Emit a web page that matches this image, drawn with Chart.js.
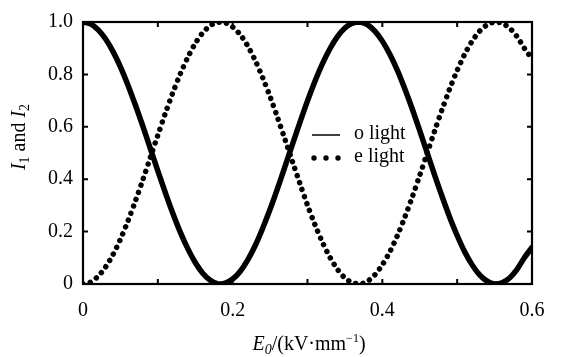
<!DOCTYPE html>
<html>
<head>
<meta charset="utf-8">
<script src="https://cdn.jsdelivr.net/npm/chart.js@4"></script>
<style>
html,body{margin:0;padding:0;background:#fff;}
#wrap{width:567px;height:357px;}
</style>
</head>
<body>
<div id="wrap"><canvas id="c" width="567" height="357"></canvas></div>
<script>
const fieldValues = [0.00,0.01,0.02,0.03,0.04,0.05,0.06,0.07,0.08,0.09,0.10,0.11,0.12,0.13,0.14,0.15,0.16,0.17,0.18,0.19,0.20,0.21,0.22,0.23,0.24,0.25,0.26,0.27,0.28,0.29,0.30,0.31,0.32,0.33,0.34,0.35,0.36,0.37,0.38,0.39,0.40,0.41,0.42,0.43,0.44,0.45,0.46,0.47,0.48,0.49,0.50,0.51,0.52,0.53,0.54,0.55,0.56,0.57,0.58,0.59,0.60];
const oLight = [1.000,0.993,0.971,0.936,0.888,0.829,0.760,0.683,0.602,0.517,0.432,0.349,0.270,0.198,0.135,0.082,0.041,0.014,0.001,0.003,0.019,0.048,0.091,0.146,0.212,0.285,0.365,0.449,0.534,0.618,0.699,0.774,0.841,0.898,0.944,0.977,0.995,1.000,0.990,0.965,0.927,0.877,0.816,0.745,0.668,0.585,0.500,0.415,0.333,0.255,0.185,0.123,0.073,0.035,0.011,0.000,0.005,0.023,0.056,0.101,0.140];
const eLight = [0.000,0.007,0.029,0.064,0.112,0.171,0.240,0.317,0.398,0.483,0.568,0.651,0.730,0.802,0.865,0.918,0.959,0.986,0.999,0.997,0.981,0.952,0.909,0.854,0.788,0.715,0.635,0.551,0.466,0.382,0.301,0.226,0.159,0.102,0.056,0.023,0.005,0.000,0.010,0.035,0.073,0.123,0.184,0.255,0.332,0.415,0.500,0.585,0.667,0.745,0.815,0.877,0.927,0.965,0.989,1.000,0.995,0.977,0.944,0.899,0.860];
const xTickLabels = ['0','0.2','0.4','0.6'];
const yTickLabels = ['0','0.2','0.4','0.6','0.8','1.0'];
const xMinorTicks = [0.1,0.3,0.5];
const seriesNames = ['o light','e light'];

const SERIF = '"Liberation Serif", "DejaVu Serif", serif';
const FS = 20;

function pts(ys){ return fieldValues.map((x,i)=>({x:x,y:ys[i]})); }

function drawRich(ctx, parts, x, y, align){
  let total = 0;
  parts.forEach(p=>{ ctx.font = (p.italic?'italic ':'') + (p.size||FS) + 'px ' + SERIF; p.w = ctx.measureText(p.t).width; total += p.w; });
  let cx = align==='center' ? x - total/2 : x;
  parts.forEach(p=>{
    ctx.font = (p.italic?'italic ':'') + (p.size||FS) + 'px ' + SERIF;
    ctx.fillText(p.t, cx, y + (p.dy||0));
    cx += p.w;
  });
}

const decor = {
  id:'decor',
  afterDatasetsDraw(chart){
    const ctx = chart.ctx, a = chart.chartArea, xs = chart.scales.x, ys = chart.scales.y;
    ctx.save();
    ctx.strokeStyle = '#000';
    ctx.lineWidth = 2.2;
    ctx.strokeRect(a.left, a.top, a.right-a.left, a.bottom-a.top);
    ctx.lineWidth = 2;
    const tl = 5;
    const xt = [0,0.2,0.4,0.6].concat(xMinorTicks);
    xt.forEach(v=>{
      const px = xs.getPixelForValue(v);
      ctx.beginPath();
      ctx.moveTo(px, a.bottom); ctx.lineTo(px, a.bottom - tl);
      ctx.moveTo(px, a.top); ctx.lineTo(px, a.top + tl);
      ctx.stroke();
    });
    [0,0.2,0.4,0.6,0.8,1.0].forEach(v=>{
      const py = ys.getPixelForValue(v);
      ctx.beginPath();
      ctx.moveTo(a.left, py); ctx.lineTo(a.left + tl, py);
      ctx.moveTo(a.right, py); ctx.lineTo(a.right - tl, py);
      ctx.stroke();
    });
    // legend
    ctx.fillStyle = '#000';
    ctx.textBaseline = 'middle';
    ctx.textAlign = 'left';
    ctx.lineWidth = 1.5;
    ctx.beginPath(); ctx.moveTo(312,135); ctx.lineTo(340,135); ctx.stroke();
    [314,326,338].forEach(cx=>{ ctx.beginPath(); ctx.arc(cx,158,2.7,0,Math.PI*2); ctx.fill(); });
    ctx.font = FS + 'px ' + SERIF;
    ctx.fillText(seriesNames[0], 354, 134);
    ctx.fillText(seriesNames[1], 354, 157);
    // x title
    ctx.textBaseline = 'alphabetic';
    drawRich(ctx, [
      {t:'E', italic:true},
      {t:'0', italic:true, size:14, dy:4},
      {t:'/(kV·mm'},
      {t:'−1', size:12, dy:-8},
      {t:')'}
    ], 309, 350, 'center');
    // y title
    ctx.save();
    ctx.translate(25, 137);
    ctx.rotate(-Math.PI/2);
    drawRich(ctx, [
      {t:'I', italic:true},
      {t:'1', size:14, dy:4},
      {t:' and '},
      {t:'I', italic:true},
      {t:'2', size:14, dy:4}
    ], 0, 0, 'center');
    ctx.restore();
    ctx.restore();
  }
};

new Chart(document.getElementById('c'), {
  type:'line',
  data:{
    datasets:[
      {label:seriesNames[0], data:pts(oLight), borderColor:'#000', borderWidth:5.5, pointRadius:0, tension:0.3, fill:false, borderCapStyle:'round', borderJoinStyle:'round'},
      {label:seriesNames[1], data:pts(eLight), borderColor:'#000', borderWidth:5.5, pointRadius:0, tension:0.3, fill:false, borderDash:[0.01,7.4], borderCapStyle:'round'}
    ]
  },
  options:{
    responsive:false,
    animation:false,
    events:[],
    layout:{padding:{left:0,right:35,top:18,bottom:0}},
    plugins:{legend:{display:false}, tooltip:{enabled:false}},
    scales:{
      x:{
        type:'linear', min:0, max:0.6,
        grid:{display:false, drawTicks:false}, border:{display:false},
        ticks:{stepSize:0.2, padding:15, color:'#000', font:{family:SERIF, size:FS}, maxRotation:0,
          callback:(v,i)=>xTickLabels[i]},
        afterFit:s=>{s.height = 73;}
      },
      y:{
        min:0, max:1,
        grid:{display:false, drawTicks:false}, border:{display:false},
        ticks:{stepSize:0.2, padding:10, color:'#000', font:{family:SERIF, size:FS},
          callback:(v,i)=>yTickLabels[i]},
        afterFit:s=>{s.width = 83;}
      }
    }
  },
  plugins:[decor]
});
</script>
</body>
</html>
